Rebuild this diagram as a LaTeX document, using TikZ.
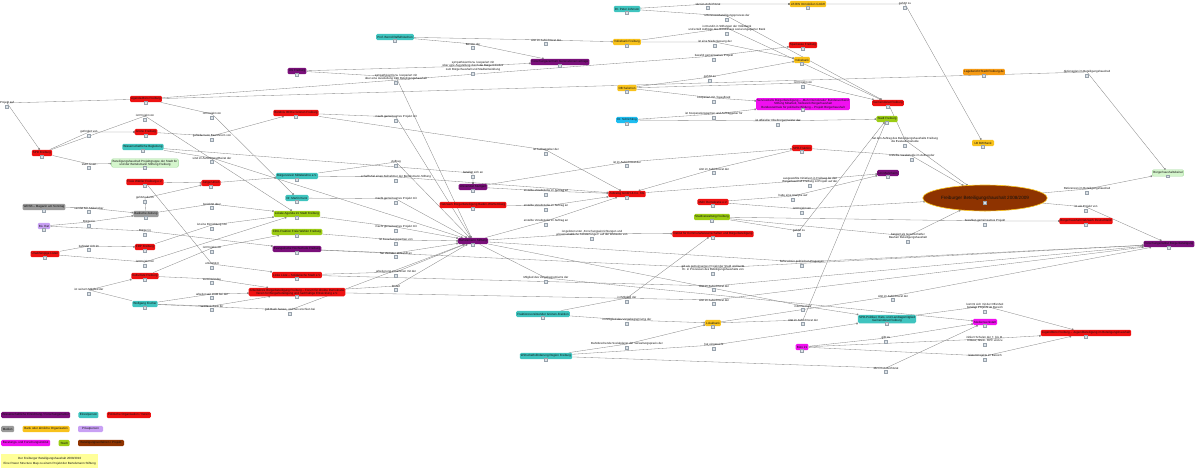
\documentclass[tikz,border=0pt]{standalone}
\usepackage{fontspec}
\setmainfont{Liberation Sans}
\usepackage{xcolor}
\usepackage{tikz}
\usetikzlibrary{arrows.meta,positioning,shapes.geometric,backgrounds}
\definecolor{ink}{HTML}{111111}
\definecolor{purp}{HTML}{7A0F7A}
\definecolor{tealc}{HTML}{3FC4BF}
\definecolor{redc}{HTML}{EE1111}
\definecolor{grayc}{HTML}{9A9A9A}
\definecolor{yel}{HTML}{F8C21C}
\definecolor{lav}{HTML}{C8A0F4}
\definecolor{mag}{HTML}{F010F0}
\definecolor{limec}{HTML}{9CCC14}
\definecolor{brwn}{HTML}{8E3300}
\definecolor{lgrn}{HTML}{D4F5CC}
\definecolor{lgrnD}{HTML}{9DD896}
\definecolor{orng}{HTML}{F59A14}
\definecolor{lblue}{HTML}{1EBDF0}
\definecolor{note}{HTML}{FFFF99}
\definecolor{icoL}{HTML}{DDE3E8}
\definecolor{icoD}{HTML}{98A2AC}
\definecolor{lineC}{HTML}{858585}
\newcommand{\nfont}{\fontsize{3}{3.5}\selectfont}
\newcommand{\efont}{\fontsize{2.9}{3.4}\selectfont}
\newcommand{\bigfont}{\fontsize{4.6}{5.2}\selectfont}
\tikzset{
  ico/.style  ={draw=icoD, fill=icoL, line width=.2pt, minimum size=2.9pt, inner sep=0pt},
  nico/.style ={label={[ico,label distance=-1.8pt]below:{}}},
  kbox/.style ={rounded corners=1.3pt, align=center, inner sep=1.1pt, font=\nfont,
                text=ink, minimum height=6.4pt},
  box/.style  ={kbox, nico},
  pp/.style   ={box, fill=purp},
  tt/.style   ={box, fill=tealc},
  rr/.style   ={box, fill=redc},
  gg/.style   ={box, fill=grayc},
  yy/.style   ={box, fill=yel},
  lv/.style   ={box, fill=lav},
  mg/.style   ={box, fill=mag},
  lm/.style   ={box, fill=limec},
  oo/.style   ={box, fill=orng},
  lb/.style   ={box, fill=lblue},
  lg/.style   ={box, fill=lgrn, draw=lgrnD, line width=.3pt},
  ell/.style  ={ellipse, fill=brwn, draw=yel, line width=.6pt, font=\bigfont, text=ink,
                minimum width=98pt, minimum height=26pt, inner sep=0pt,
                label={[ico,label distance=-10pt]below:{}}},
  lbl/.style  ={font=\efont, align=center, inner sep=.4pt, text=ink,
                label={[ico,label distance=.3pt]below:{}}},
  flow/.style ={-{Square[length=1.5pt,width=1.5pt]}, line width=.32pt, draw=lineC},
}

\begin{document}
\begin{tikzpicture}[x=1pt,y=-1pt]
  \useasboundingbox (0,0) rectangle (1200,469);
  % --- actors, top ---
  \node[tt](drpeter) at (627,9){Dr. Peter Johnson};
  \node[yy](lbbwimmo) at (808,4){LB BW Immobilien GmbH};
  \node[tt](bernd) at (395,37){Prof. Bernd Raffelhüschen};
  \node[yy](volksbank) at (627,42){Volksbank Freiburg};
  \node[pp](fzg) at (560,62){Forschungszentrum Generationenverträge};
  \node[rr](spk) at (803,45){Sparkasse Freiburg};
  \node[yy](volksbk2) at (802,60){Volksbank};
  \node[pp](unifr) at (297,71){Uni Freiburg};
  \node[rr](agenda) at (146,99){Agenda-Büro Freiburg};
  \node[yy](ob) at (627,88){OB Salomon};
  \node[lb](drschl) at (627,120){Dr. Schlichting};
  \node[mg](mehrdem) at (803,104){Servicestelle Bürgerbeteiligung -- „Mehr Demokratie“ Bundesverband\\Stiftung Mitarbeit, Netzwerk Bürgerhaushalt\\Bundeszentrale für politische Bildung -- Projekt Bürgerhaushalt};
  \node[rr](gemrat) at (888,103){Gemeinderat Freiburg};
  \node[oo](lagebericht) at (984,72){Lagebericht Stadt Freiburg.de};
  \node[lm](stadtfr) at (887,119){Stadt Freiburg};
  \node[yy,minimum width=22pt](lbbw) at (983,143){LB BW Bank};
  \node[ell](bhh) at (985,198){Freiburger Beteiligungshaushalt 2008/2009\\[5pt]};
  \node[lg](bbeirat) at (1168,173){Bürgerhaushaltsbeirat};
  % --- actors, left ---
  \node[rr](spd) at (42,153){SPD Freiburg};
  \node[rr](gruene) at (146,132){Grüne Freiburg};
  \node[rr](buendnis) at (296,113){Bündnis 90/Die Grünen Freiburg};
  \node[tt](wissbeg) at (143,147){Wissenschaftliche Begleitung};
  \node[lg](projgr) at (145,163){Beteiligungshaushalt Projektgruppe der Stadt für\\und der Bertelsmann Stiftung Freiburg};
  \node[rr](fwfr) at (145,182){Freie Wähler Freiburg e.V.};
  \node[rr](ju) at (211,183){Junge Union};
  \node[tt](bvwiehre) at (297,176){Bürgerverein Mittelwiehre e.V.};
  \node[tt](drkunz) at (297,198){Dr. Martin Kunz};
  \node[gg](wdsb) at (44,207){WDSB -- Magazin am Sonntag};
  \node[gg](bz) at (146,214){Badische Zeitung};
  \node[lv](buerger) at (44,226){Bü. Rat};
  \node[lm](agenda21) at (297,214){Lokale Agenda 21 Stadt Freiburg};
  \node[lm](cdufw) at (297,232){CDU-Fraktion Freie Wähler Freiburg};
  \node[pp](evhs) at (297,249){Evangelische Hochschule Freiburg};
  \node[rr](fdp) at (145,247){FDP Freiburg};
  \node[rr](ulisten) at (45,254){Unabhängige Listen};
  \node[rr](kultur) at (145,276){Kulturliste Freiburg};
  \node[tt](wfischer) at (145,304){Wolfgang Fischer};
  \node[rr](linke) at (297,275){Linke Liste -- Solidarische Stadt e.V.};
  \node[rr](akbb) at (297,292){Arbeitskreis Bürgerbeteiligung Freiburg -- Forum für direkte Demokratie\\Verein für Bürgerbeteiligung und nachhaltige Entwicklung e.V.};
  % --- actors, centre and right ---
  \node[pp](unistgt) at (473,187){Universität Stuttgart};
  \node[rr](netzbw) at (473,205){Netzwerk Bürgerbeteiligung Baden-Württemberg};
  \node[pp](bst) at (473,241){Bertelsmann Stiftung};
  \node[rr](zebralog) at (627,194){Zebralog GmbH \& Co. KG};
  \node[rr](ifk) at (713,234){Institut für Kommunalwissenschaften und Bürgerbeteiligung};
  \node[rr](mehrd) at (713,202){Mehr Demokratie e.V.};
  \node[lm](stadtverw) at (712,217){Stadtverwaltung Freiburg};
  \node[pp](unima) at (888,173){Uni Mannheim};
  \node[rr](spdfr) at (802,148){SPD-Fraktion};
  \node[rr](bhnetz) at (1086,221){Bürgerhaushalt Netzwerk Deutschland};
  \node[pp](fib) at (1169,244){Forschungsinstitut Bürgerbeteiligung};
  \node[tt](fraktvors) at (543,314){Fraktionsvorsitzender Grünen-Fraktion};
  \node[tt](wifoe) at (546,356){Wirtschaftsförderung Region Freiburg};
  \node[yy](lokalbank) at (713,323){Lokalbank};
  \node[tt](spdpol) at (887,319){SPD-Politiker, Rats- und Landtagsmitglied\\Gemeinderat Freiburg};
  \node[mg](medienw) at (985,322){Medienwerkstatt};
  \node[mg](buero21) at (802,347){Büro 21};
  \node[rr](jugendb) at (1086,333){Jugendbüro Freiburg -- Jugendbeteiligung im Beteiligungshaushalt};
  % --- relation labels ---
  \node[lbl](e1) at (708,4){sitzt im Aufsichtsrat};
  \node[lbl](e2) at (905,4){gehört zu};
  \node[lbl](e3) at (727,16){unterstützt Beteiligungsprozess der};
  \node[lbl](e4) at (727,28){ist Kundin in Stiftungen der Volksbank\\und erteilt Aufträge des Bündnisses sozial engagierter Bank};
  \node[lbl](e5) at (473,44){Berater der};
  \node[lbl](e6) at (546,40){sitzt im Aufsichtsrat der};
  \node[lbl](e7) at (715,42){ist eine Niederlassung der};
  \node[lbl](e8) at (714,56){bezahlt gemeinsames Projekt};
  \node[lbl](e9) at (473,66){sympathisiert bzw. kooperiert mit\\über eine Ausstellung durch die Bürgerinitiative\\zum Bürgerhaushalt und Stadtentwicklung};
  \node[lbl](e10) at (396,77){sympathisiert bzw. kooperiert mit\\über eine Ausstellung zum Beteiligungshaushalt};
  \node[lbl](e11) at (710,77){gehört zu};
  \node[lbl](e12) at (1087,72){Aktionsplan im Beteiligungshaushalt};
  \node[lbl](e13) at (803,83){ist Projekt von};
  \node[lbl](e14) at (714,98){kooperiert mit / beauftragt};
  \node[lbl](e15) at (714,114){ist Kooperationspartner und Auftraggeber für};
  \node[lbl](e16) at (778,121){ist offizieller Oberbürgermeister der};
  \node[lbl](e17) at (7,103){Projekt auf};
  \node[lbl](e18) at (145,116){ist Projekt von};
  \node[lbl](e19) at (212,114){ist Projekt von};
  \node[lbl](e20) at (89,132){gefördert von};
  \node[lbl](e21) at (212,136){gefördert von Bewohnern von};
  \node[lbl](e22) at (89,164){steht hinter};
  \node[lbl](e23) at (212,158){sind im Aufsichtsrat/Beirat der};
  \node[lbl](e24) at (396,117){macht gemeinsames Projekt mit};
  \node[lbl](e25) at (546,150){ist Auftraggeber der};
  \node[lbl](e26) at (396,162){Auftrag};
  \node[lbl](e27) at (396,177){schafft Ziel einen Teilnehmer der Bertelsmann-Stiftung};
  \node[lbl](e28) at (473,173){beteiligt sich an};
  \node[lbl](e29) at (546,191){erstellte Vorabstudie im Auftrag an};
  \node[lbl](e30) at (546,206){erstellte Vorabstudie im Auftrag an};
  \node[lbl](e31) at (546,221){erstellte Vorabstudie im Auftrag an};
  \node[lbl](e32) at (592,233){ist gelistet unter „Forschungseinrichtungen und\\wissenschaftliche Auswertungen“ auf der Webseite von};
  \node[lbl](e33) at (627,162){ist im Aufsichtsrat der};
  \node[lbl](e34) at (714,169){sitzt im Aufsichtsrat der};
  \node[lbl](e35) at (810,180){ausgewählte Initiativen in Freiburg für das\\Bürgerhaushalt Freiburg ist Projekt auf der};
  \node[lbl](e36) at (793,196){hatte eine Analyse auf};
  \node[lbl](e37) at (802,209){ist Projekt von};
  \node[lbl](e38) at (799,231){gehört zu};
  \node[lbl](e39) at (908,236){fungiert als Gesellschafter\\Bauherr Beteiligungshaushalt};
  \node[lbl](e40) at (985,221){bezahlen gemeinsames Projekt};
  \node[lbl](e41) at (905,140){hat den Auftrag des Beteiligungshaushalts Freiburg\\die Evaluationsstudie};
  \node[lbl](e42) at (912,156){erstellte Vorabstudie im Auftrag der};
  \node[lbl](e43) at (1087,189){Referenzen im Beteiligungshaushalt};
  \node[lbl](e44) at (1086,207){ist ein Projekt von};
  \node[lbl](e45) at (802,262){beforscht in politischen Prozessen};
  \node[lbl](e46) at (713,268){gilt als gemeinsames Projekt der Stadt und berät\\Hr. in Prozessen des Beteiligungshaushalts von};
  \node[lbl](e47) at (714,286){sitzt im Aufsichtsrat der};
  \node[lbl](e48) at (714,300){sitzt im Aufsichtsrat der};
  \node[lbl](e49) at (627,298){ist Mitglied der};
  \node[lbl](e50) at (627,320){ist Mitglied des Vergabegremiums der};
  \node[lbl](e51) at (627,344){Bahnbrechende Sozialplaner der Verwaltungspraxis der};
  \node[lbl](e52) at (714,345){hat eingereicht};
  \node[lbl](e53) at (886,368){sitzt im Aufsichtsrat};
  \node[lbl](e54) at (886,338){gibt zu};
  \node[lbl](e55) at (985,339){initiiert Schulen der 7. bis 11.\\Klasse, Altern. RPF und zu};
  \node[lbl](e56) at (985,356){leistet Projekte im Bereich};
  \node[lbl](e57) at (985,306){kommt sich mit der Offenheit\\beteiligt Projekte im Bereich};
  \node[lbl](e58) at (803,320){sitzt im Aufsichtsrat der};
  \node[lbl](e59) at (803,306){informiert auf};
  \node[lbl](e60) at (893,296){sitzt im Aufsichtsrat der};
  \node[lbl](e61) at (89,208){sendet Mit-Artikel über};
  \node[lbl](e62) at (89,222){Bürger in};
  \node[lbl](e63) at (145,231){Bürger in};
  \node[lbl](e64) at (212,204){berichtet über};
  \node[lbl](e65) at (145,198){gehörte durch};
  \node[lbl](e66) at (212,225){ist eine Einrichtung von};
  \node[lbl](e67) at (89,246){befindet sich im};
  \node[lbl](e68) at (145,262){ist Projekt von};
  \node[lbl](e69) at (212,248){ist Projekt von};
  \node[lbl](e70) at (212,264){unterstützt};
  \node[lbl](e71) at (89,290){ist seinem Mitglied der};
  \node[lbl](e72) at (212,279){vermittelt Idee};
  \node[lbl](e73) at (212,294){arbeitet seit 2008 bei der};
  \node[lbl](e74) at (212,306){setzte sich ein für};
  \node[lbl](e75) at (290,310){gab Buch heraus, welches erschien bei};
  \node[lbl](e76) at (396,199){macht gemeinsames Projekt mit};
  \node[lbl](e77) at (396,227){macht gemeinsames Projekt mit};
  \node[lbl](e78) at (396,240){ist Forschungspartner von};
  \node[lbl](e79) at (396,253){hat Vertreter entsandt an};
  \node[lbl](e80) at (396,272){arbeitet eng zusammen mit der};
  \node[lbl](e81) at (396,286){fördert};
  \node[lbl](e82) at (546,278){Mitglied des Vergabegremiums der};
  % --- relations, drawn under the boxes ---
  \begin{scope}[on background layer]
    \foreach \src/\via/\dst in {drpeter/e1/lbbwimmo, lbbwimmo/e2/lbbw, drpeter/e3/gemrat,
        volksbank/e4/gemrat, bernd/e5/fzg, bernd/e6/volksbank, volksbank/e7/volksbk2,
        agenda/e8/spk, unifr/e9/fzg, unifr/e10/bst, ob/e11/volksbk2, agenda/e12/bbeirat,
        ob/e13/gemrat, ob/e14/mehrdem, drschl/e15/mehrdem, drschl/e16/stadtfr,
        agenda/e17/spd, spd/e18/agenda21, agenda/e19/drkunz, spd/e20/gruene,
        gruene/e21/buendnis, spd/e22/projgr, wissbeg/e23/bst, buendnis/e24/bst,
        buendnis/e25/zebralog, bvwiehre/e26/bst, bvwiehre/e27/zebralog, wissbeg/e28/unistgt,
        unistgt/e29/zebralog, netzbw/e30/zebralog, bst/e31/zebralog, bst/e32/ifk,
        unistgt/e33/spdfr, spdfr/e34/zebralog, zebralog/e35/unima, mehrd/e36/unima,
        mehrd/e37/bhh, stadtverw/e38/stadtfr, stadtverw/e39/bhh, stadtverw/e40/bhnetz,
        gemrat/e41/bhh, spdfr/e42/bhh, bhh/e43/bbeirat, bhh/e44/fib, bst/e45/fib,
        evhs/e46/fib, linke/e47/fib, akbb/e48/fib, fraktvors/e49/ifk,
        fraktvors/e50/lokalbank, wifoe/e51/lokalbank, wifoe/e52/spdpol, wifoe/e53/medienw,
        buero21/e54/medienw, buero21/e55/jugendb, buero21/e56/jugendb, spdpol/e57/jugendb,
        lokalbank/e58/stadtfr, bst/e59/spdpol, lokalbank/e60/fib, wdsb/e61/bz,
        buerger/e62/bz, buerger/e63/evhs, bz/e64/agenda21, bz/e65/ju, fdp/e66/agenda21,
        ulisten/e67/fdp, ulisten/e68/agenda21, kultur/e69/cdufw, fwfr/e70/linke,
        wfischer/e71/kultur, kultur/e72/akbb, wfischer/e73/akbb, wfischer/e74/akbb,
        wfischer/e75/bst, drkunz/e76/bst, agenda21/e77/bst, cdufw/e78/bst, evhs/e79/bst,
        linke/e80/bst, akbb/e81/bst, bst/e82/medienw}
       \draw[flow] (\src) -- (\via.center) -- (\dst);
    \draw[flow] (fwfr) -- (ju);
    \draw[flow] (ju) -- (bvwiehre);
  \end{scope}
  % --- legend ---
  \node[kbox, fill=purp, anchor=west, minimum width=68pt](k1) at (1,415){Wissenschaftliche Einrichtung / Forschungsinstitut};
  \node[kbox, fill=tealc, right=8pt of k1, minimum width=20pt](k2){Einzelperson};
  \node[kbox, fill=redc, right=8pt of k2, minimum width=40pt](k3){Politische Organisation / Verein};
  \node[kbox, fill=grayc, anchor=west, minimum width=13pt](k4) at (1,429){Medien};
  \node[kbox, fill=yel, right=8pt of k4, minimum width=47pt](k5){Bank oder ähnliche Organisation};
  \node[kbox, fill=lav, right=8pt of k5, minimum width=25pt](k6){Privatperson};
  \node[kbox, fill=mag, anchor=west, minimum width=49pt](k7) at (1,443){Beratungs- und Forschungsinstitut};
  \node[kbox, fill=limec, right=8pt of k7, minimum width=11pt](k8){Stadt};
  \node[kbox, fill=brwn, right=8pt of k8, minimum width=46pt](k9){Beteiligungsverfahren / Projekt};
  \node[kbox, fill=note, anchor=west, minimum width=97pt, minimum height=14pt, rounded corners=0pt](k10) at (1,461){Der Freiburger Beteiligungshaushalt 2008/2010\\[1.5pt]Eine Power Structure Map zu einem Projekt der Bertelsmann Stiftung};
\end{tikzpicture}
\end{document}
